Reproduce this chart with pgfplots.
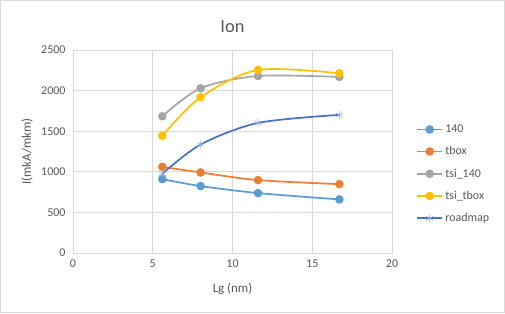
\documentclass[border=0pt]{standalone}
\usepackage{pgfplots}
\pgfplotsset{compat=1.18}
\usepackage{fontspec}
\setmainfont{Carlito}
\definecolor{c140}{HTML}{5B9BD5}
\definecolor{ctbox}{HTML}{ED7D31}
\definecolor{ctsi}{HTML}{A5A5A5}
\definecolor{ctsitbox}{HTML}{FFC000}
\definecolor{croad}{HTML}{4472C4}
\definecolor{txt}{HTML}{595959}
\definecolor{gridc}{HTML}{D9D9D9}
\begin{document}
\begin{tikzpicture}[x=1bp,y=1bp]
\draw[draw=gridc, fill=white, line width=0.8bp] (0.4,0.4) rectangle (504.6,312.6);
\begin{axis}[
  at={(73bp,60bp)}, anchor=south west,
  scale only axis, width=319bp, height=203bp,
  xmin=0, xmax=20, ymin=0, ymax=2500,
  xtick={0,5,10,15,20}, ytick={0,500,1000,1500,2000,2500},
  grid=major, grid style={gridc, line width=0.8bp},
  axis line style={gridc, line width=0.8bp},
  tick style={draw=none},
  tick label style={font=\fontsize{12}{14}\selectfont, text=txt},
  /pgf/number format/assume math mode=true,
  /pgf/number format/1000 sep={},
  yticklabel style={xshift=-4bp},
  xticklabel style={yshift=-3bp},
  title={Ion}, title style={font=\fontsize{18.5}{20}\selectfont, text=txt, at={(0.5,1)}, yshift=8bp},
  xlabel={Lg (nm)}, ylabel={I(mkA/mkm)},
  label style={font=\fontsize{13}{15}\selectfont, text=txt},
  xlabel style={at={(0.5,0)}, anchor=center, yshift=-36bp},
  ylabel style={at={(0,0.5)}, anchor=center, yshift=46bp},
  legend style={at={(1.075,0.389)}, anchor=west, draw=none, fill=none,
    font=\fontsize{12}{14}\selectfont, text=txt, row sep=8.5bp,
    inner sep=0pt},
  legend cell align=left,
  legend image code/.code={
    \draw[mark repeat=2,mark phase=2] plot coordinates {(0cm,0cm) (0.45cm,0cm) (0.9cm,0cm)};
  },
  every axis plot/.append style={line width=1.7bp, smooth, tension=0.5},
]
\addplot[c140, mark=*, mark size=3.4bp, mark options={fill=c140, draw=c140}] coordinates {(5.6,910) (8,824) (11.6,738) (16.7,660)};
\addlegendentry{140}
\addplot[ctbox, mark=*, mark size=3.4bp, mark options={fill=ctbox, draw=ctbox}] coordinates {(5.6,1061) (8,992) (11.6,898) (16.7,848)};
\addlegendentry{tbox}
\addplot[ctsi, mark=*, mark size=3.4bp, mark options={fill=ctsi, draw=ctsi}] coordinates {(5.6,1684) (8,2029) (11.6,2180) (16.7,2168)};
\addlegendentry{tsi\_140}
\addplot[ctsitbox, mark=*, mark size=3.4bp, mark options={fill=ctsitbox, draw=ctsitbox}] coordinates {(5.6,1443) (8,1918) (11.6,2254) (16.7,2213)};
\addlegendentry{tsi\_tbox}
\addplot[croad, mark=asterisk, mark size=4bp, mark options={draw=croad!60, line width=0.6bp}] coordinates {(5.6,975) (8,1336) (11.6,1602) (16.7,1701)};
\addlegendentry{roadmap}
\end{axis}
\end{tikzpicture}
\end{document}
